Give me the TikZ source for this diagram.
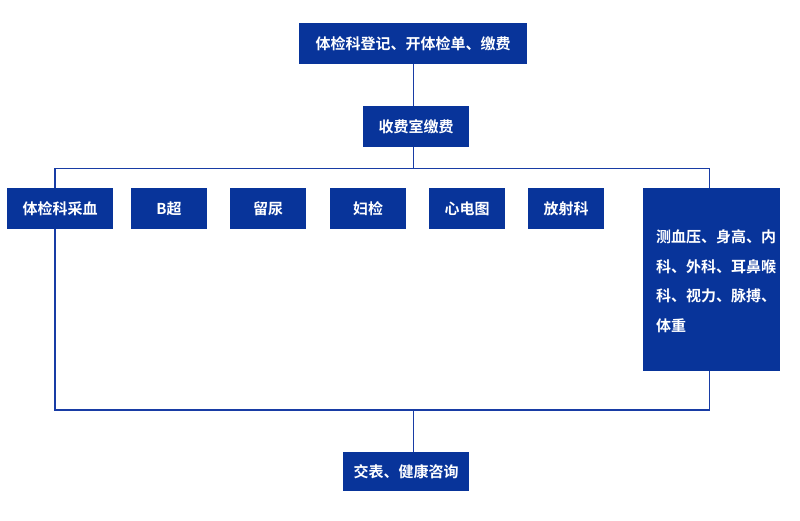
\documentclass[tikz,border=0pt]{standalone}
\usepackage{fontspec}
\setmainfont{Noto Sans CJK SC}[BoldFont={Noto Sans CJK SC Bold}]
\definecolor{boxblue}{RGB}{8,52,154}
\definecolor{lineblue}{RGB}{24,60,165}
\begin{document}
\begin{tikzpicture}[x=1pt,y=-1pt,
  box/.style={fill=boxblue,text=white,inner sep=0pt,font=\fontsize{15}{18}\selectfont\bfseries,anchor=center},
  conn/.style={draw=lineblue,line width=1.6pt}]
\useasboundingbox (0,0) rectangle (800,520);
% frame coordinates
\coordinate (tl) at (55,168.5);
\coordinate (tr) at (709.5,168.5);
\coordinate (bl) at (55,410);
\coordinate (br) at (709.5,410);
\coordinate (bm) at (413.5,410);
\coordinate (tm) at (413.5,168.5);
\draw[conn] (tl) -- (tr) -- (br) -- (bl) -- cycle;
\node[box,minimum width=228,minimum height=41] (reg) at (413,43.5) {体检科登记、开体检单、缴费};
\node[box,minimum width=106,minimum height=41] (pay) at (416,126.5) {收费室缴费};
\node[box,minimum width=106,minimum height=41] (blood) at (60,208.5) {体检科采血};
\node[box,minimum width=76,minimum height=41] (bus) at (169,208.5) {B超};
\node[box,minimum width=76,minimum height=41] (urine) at (268,208.5) {留尿};
\node[box,minimum width=76,minimum height=41] (gyn) at (368,208.5) {妇检};
\node[box,minimum width=76,minimum height=41] (ecg) at (467,208.5) {心电图};
\node[box,minimum width=76,minimum height=41] (xray) at (566,208.5) {放射科};
\node[box,minimum width=137,minimum height=183,font=\fontsize{15}{29.5}\selectfont\bfseries] (misc) at (711.5,279.5) {\raisebox{-1.5pt}[\height][\depth]{\begin{tabular}{@{\hspace{9pt}}l@{}}测血压、身高、内\\科、外科、耳鼻喉\\科、视力、脉搏、\\体重\end{tabular}}};
\node[box,minimum width=126,minimum height=39] (fin) at (406,471.5) {交表、健康咨询};
\draw[conn] (reg.south -| tm) -- (pay.north -| tm);
\draw[conn] (pay.south -| tm) -- (tm);
\draw[conn] (bm) -- (fin.north -| bm);
\end{tikzpicture}
\end{document}
